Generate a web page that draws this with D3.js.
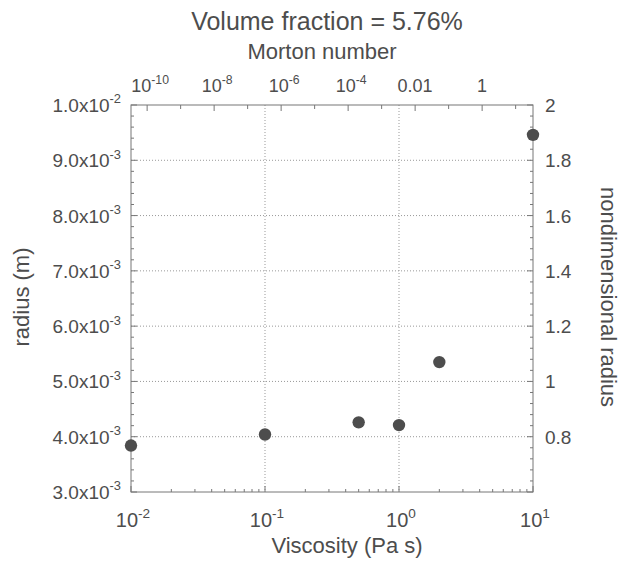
<!DOCTYPE html>
<html>
<head>
<meta charset="utf-8">
<script src="https://cdn.jsdelivr.net/npm/d3@7"></script>
<style>
  body { margin: 0; background: #fff; }
  text { font-family: "Liberation Sans", Arial, sans-serif; fill: #4d4d4d; }
</style>
</head>
<body>
<div id="chart"></div>
<script>
const width = 624, height = 564;
const plotLeft = 131, plotRight = 533, plotTop = 105, plotBottom = 492;

// data
const viscosity = [0.01, 0.1, 0.5, 1, 2, 10];
const radius = [3.84e-3, 4.04e-3, 4.26e-3, 4.21e-3, 5.35e-3, 9.46e-3];

const radiusTicks = [3e-3, 4e-3, 5e-3, 6e-3, 7e-3, 8e-3, 9e-3, 1e-2];
const radiusLabels = [["3.0x10", "-3"], ["4.0x10", "-3"], ["5.0x10", "-3"], ["6.0x10", "-3"],
                      ["7.0x10", "-3"], ["8.0x10", "-3"], ["9.0x10", "-3"], ["1.0x10", "-2"]];
const viscTicks = [0.01, 0.1, 1, 10];
const viscLabels = [["10", "-2"], ["10", "-1"], ["10", "0"], ["10", "1"]];
const nondimTicks = [0.8, 1, 1.2, 1.4, 1.6, 1.8, 2];
const nondimLabels = ["0.8", "1", "1.2", "1.4", "1.6", "1.8", "2"];
const mortonTicks = [1e-10, 1e-8, 1e-6, 1e-4, 0.01, 1];
const mortonLabels = [["10", "-10"], ["10", "-8"], ["10", "-6"], ["10", "-4"], ["0.01", ""], ["1", ""]];

const refRadius = 5e-3;      // nondimensional radius = radius / refRadius
const mortonCoef = 3.3e-3;   // Mo = mortonCoef * viscosity^4

const svg = d3.select("#chart").append("svg")
  .attr("width", width).attr("height", height);

const x = d3.scaleLog().domain([0.01, 10]).range([plotLeft, plotRight]);
const y = d3.scaleLinear().domain([3e-3, 1e-2]).range([plotBottom, plotTop]);
const y2 = d3.scaleLinear().domain([3e-3 / refRadius, 1e-2 / refRadius]).range([plotBottom, plotTop]);
const xTop = d3.scaleLog()
  .domain([mortonCoef * Math.pow(0.01, 4), mortonCoef * Math.pow(10, 4)])
  .range([plotLeft, plotRight]);

// grid
const grid = svg.append("g").attr("stroke", "#999").attr("stroke-dasharray", "1,2").attr("stroke-width", 1);
grid.selectAll(".gx").data(viscTicks.slice(1, -1)).join("line")
  .attr("x1", d => x(d)).attr("x2", d => x(d)).attr("y1", plotTop).attr("y2", plotBottom);
grid.selectAll(".gy").data(radiusTicks.slice(1, -1)).join("line")
  .attr("x1", plotLeft).attr("x2", plotRight).attr("y1", d => y(d)).attr("y2", d => y(d));

// frame
svg.append("rect").attr("x", plotLeft).attr("y", plotTop)
  .attr("width", plotRight - plotLeft).attr("height", plotBottom - plotTop)
  .attr("fill", "none").attr("stroke", "#777").attr("stroke-width", 1);

const ticks = svg.append("g").attr("stroke", "#777").attr("stroke-width", 1);

// bottom (log viscosity) ticks, inward
const viscMinor = x.ticks();
ticks.selectAll(".tb").data(viscMinor).join("line")
  .attr("x1", d => x(d)).attr("x2", d => x(d))
  .attr("y1", plotBottom).attr("y2", d => plotBottom - (viscTicks.includes(d) ? 6 : 3));

// top (Morton) ticks, inward
const moMinor = xTop.ticks();
ticks.selectAll(".tt").data(moMinor).join("line")
  .attr("x1", d => xTop(d)).attr("x2", d => xTop(d))
  .attr("y1", plotTop).attr("y2", d => {
    const e = Math.log10(d);
    return plotTop + (Math.abs(e - Math.round(e)) < 1e-9 ? (Math.round(e) % 2 === 0 ? 6 : 4) : 2.5);
  });

// left ticks, inward
const radMinor = d3.range(3e-3, 1.00001e-2, 2e-4);
ticks.selectAll(".tl").data(radMinor).join("line")
  .attr("x1", plotLeft).attr("x2", (d, i) => plotLeft + (i % 5 === 0 ? 6 : 3))
  .attr("y1", d => y(d)).attr("y2", d => y(d));

// right ticks, inward
const ndMinor = d3.range(0.6, 2.0001, 0.04);
ticks.selectAll(".tr").data(ndMinor).join("line")
  .attr("x1", plotRight).attr("x2", (d, i) => plotRight - (i % 5 === 0 ? 6 : 3))
  .attr("y1", d => y2(d)).attr("y2", d => y2(d));

function supLabel(sel, base, sup, size) {
  sel.append("tspan").text(base);
  if (sup) sel.append("tspan").attr("dy", -size * 0.45).attr("font-size", size * 0.68).text(sup);
}

// left labels
radiusTicks.forEach((t, i) => {
  const tx = svg.append("text").attr("x", 121).attr("y", y(t) + 7)
    .attr("text-anchor", "end").attr("font-size", 19);
  supLabel(tx, radiusLabels[i][0], radiusLabels[i][1], 19);
});

// right labels
nondimTicks.forEach((t, i) => {
  svg.append("text").attr("x", 545).attr("y", y2(t) + 7)
    .attr("font-size", 19).text(nondimLabels[i]);
});

// bottom labels
viscTicks.forEach((t, i) => {
  const tx = svg.append("text").attr("x", x(t) + 2).attr("y", 527)
    .attr("text-anchor", "middle").attr("font-size", 20);
  supLabel(tx, viscLabels[i][0], viscLabels[i][1], 20);
});

// top labels
mortonTicks.forEach((t, i) => {
  const tx = svg.append("text").attr("x", xTop(t) + (mortonLabels[i][1] ? 3 : 0)).attr("y", 92)
    .attr("text-anchor", "middle").attr("font-size", 18);
  supLabel(tx, mortonLabels[i][0], mortonLabels[i][1], 18);
});

// points
svg.append("g").selectAll("circle").data(viscosity).join("circle")
  .attr("cx", d => x(d)).attr("cy", (d, i) => y(radius[i]))
  .attr("r", 6.2).attr("fill", "#4d4d4d");

// titles
svg.append("text").attr("x", 327).attr("y", 30).attr("text-anchor", "middle")
  .attr("font-size", 25).text("Volume fraction = 5.76%");
svg.append("text").attr("x", 322).attr("y", 59).attr("text-anchor", "middle")
  .attr("font-size", 22).text("Morton number");
svg.append("text").attr("x", 347).attr("y", 553).attr("text-anchor", "middle")
  .attr("font-size", 22).text("Viscosity (Pa s)");
svg.append("text").attr("transform", "translate(29,297) rotate(-90)")
  .attr("text-anchor", "middle").attr("font-size", 22).text("radius (m)");
svg.append("text").attr("transform", "translate(601,297) rotate(90)")
  .attr("text-anchor", "middle").attr("font-size", 22).text("nondimensional radius");
</script>
</body>
</html>
